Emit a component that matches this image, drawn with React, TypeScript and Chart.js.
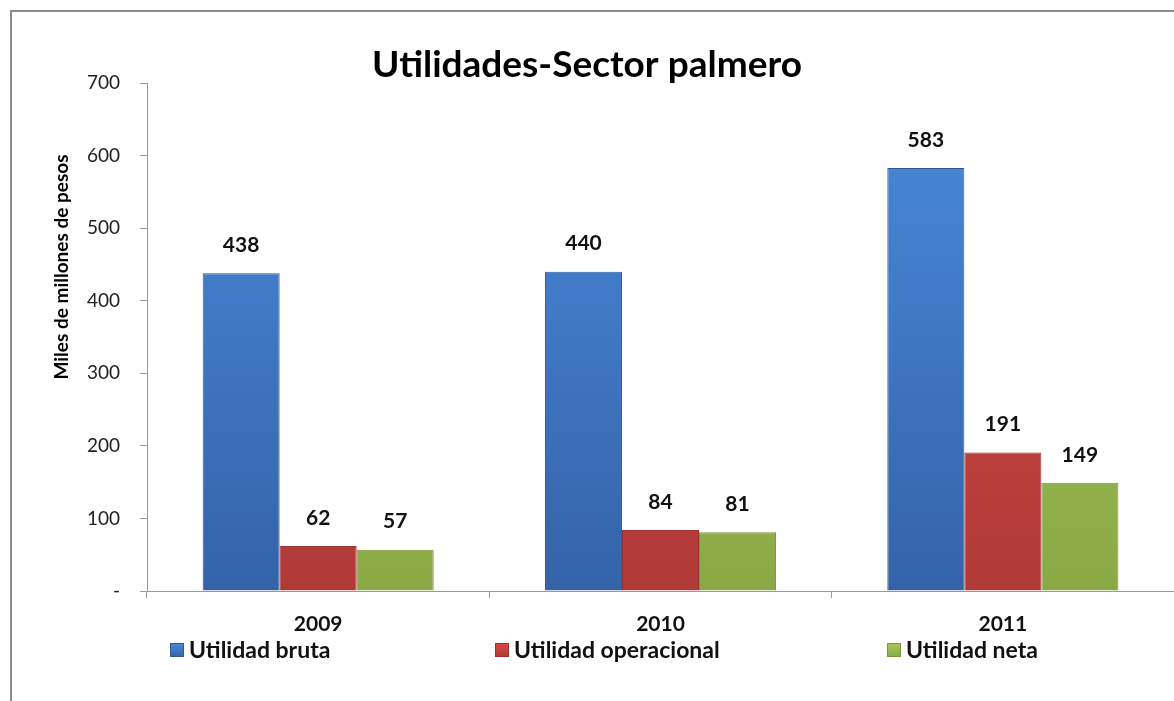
import React, { useEffect, useRef } from "react";
import { Chart, registerables } from "chart.js";

Chart.register(...registerables);

const categories = ["2009", "2010", "2011"];
const seriesNames = ["Utilidad bruta", "Utilidad operacional", "Utilidad neta"];
const utilidadBruta = [438, 440, 583];
const utilidadOperacional = [62, 84, 191];
const utilidadNeta = [57, 81, 149];
const yTicks = [0, 100, 200, 300, 400, 500, 600, 700];
const titleText = "Utilidades-Sector palmero";
const yAxisTitle = "Miles de millones de pesos";

const FONT = "Lato, 'Noto Sans', sans-serif";

const palette = [
  { top: "#4A8BDB", bottom: "#3463A8", border: "#2F5A96", box: "#3F78C4" },
  { top: "#D54A47", bottom: "#B03A38", border: "#9A3230", box: "#C4413F" },
  { top: "#A8CB5E", bottom: "#8AA946", border: "#7A963D", box: "#9BBB59" },
];

export default function App() {
  const ref = useRef<HTMLCanvasElement | null>(null);

  useEffect(() => {
    if (!ref.current) return;
    const grad = (i: number) => (ctx: any) => {
      const chart = ctx.chart;
      const area = chart.chartArea;
      if (!area) return palette[i].top;
      const g = chart.ctx.createLinearGradient(0, area.top, 0, area.bottom);
      g.addColorStop(0, palette[i].top);
      g.addColorStop(1, palette[i].bottom);
      return g;
    };

    const decor = {
      id: "decor",
      afterDraw(chart: any) {
        const c = chart.ctx;
        c.save();
        // title
        c.fillStyle = "#000";
        c.font = `bold 37px ${FONT}`;
        c.textAlign = "center";
        c.textBaseline = "middle";
        c.fillText(titleText, 587, 65);
        // y axis title
        c.save();
        c.translate(62, 267);
        c.rotate(-Math.PI / 2);
        c.font = `bold 19px ${FONT}`;
        c.fillStyle = "#000";
        c.textAlign = "center";
        c.textBaseline = "middle";
        c.fillText(yAxisTitle, 0, 0);
        c.restore();
        // legend
        const xs = [170, 495, 887];
        c.font = `bold 23px ${FONT}`;
        c.textAlign = "left";
        c.textBaseline = "middle";
        for (let i = 0; i < 3; i++) {
          const x = xs[i];
          const y = 650;
          const g = c.createLinearGradient(0, y - 7, 0, y + 7);
          g.addColorStop(0, palette[i].top);
          g.addColorStop(1, palette[i].bottom);
          c.fillStyle = g;
          c.fillRect(x, y - 7, 14, 14);
          c.strokeStyle = palette[i].border;
          c.lineWidth = 1;
          c.strokeRect(x + 0.5, y - 6.5, 13, 13);
          c.fillStyle = "#111";
          c.fillText(seriesNames[i], x + 19, y + 1);
        }
        c.restore();
      },
      afterDatasetsDraw(chart: any) {
        const c = chart.ctx;
        c.save();
        c.font = `bold 21px ${FONT}`;
        c.fillStyle = "#111";
        c.textAlign = "center";
        c.textBaseline = "middle";
        chart.data.datasets.forEach((ds: any, di: number) => {
          const meta = chart.getDatasetMeta(di);
          meta.data.forEach((bar: any, j: number) => {
            c.fillText(String(ds.data[j]), bar.x, bar.y - 28);
          });
        });
        c.restore();
      },
    };

    const chart = new Chart(ref.current, {
      type: "bar",
      data: {
        labels: categories,
        datasets: [
          { label: seriesNames[0], data: utilidadBruta, backgroundColor: grad(0), borderColor: palette[0].border, borderWidth: 1 },
          { label: seriesNames[1], data: utilidadOperacional, backgroundColor: grad(1), borderColor: palette[1].border, borderWidth: 1 },
          { label: seriesNames[2], data: utilidadNeta, backgroundColor: grad(2), borderColor: palette[2].border, borderWidth: 1 },
        ],
      },
      options: {
        responsive: false,
        animation: false,
        layout: { padding: { top: 83, left: 0, right: 0, bottom: 60 } },
        plugins: { legend: { display: false }, title: { display: false }, tooltip: { enabled: false } },
        datasets: { bar: { categoryPercentage: 0.675, barPercentage: 1 } },
        scales: {
          x: {
            afterFit: (s: any) => { s.height = 50; },
            grid: { display: true, drawOnChartArea: false, offset: true, tickLength: 7, color: "#9A9A9A" },
            border: { display: true, color: "#9A9A9A" },
            ticks: { font: { family: FONT, size: 21, weight: "bold" }, color: "#111", padding: 14 },
          },
          y: {
            min: 0,
            max: 700,
            afterFit: (s: any) => { s.width = 147; },
            afterBuildTicks: (s: any) => { s.ticks = yTicks.map((v) => ({ value: v })); },
            grid: { display: true, drawOnChartArea: false, tickLength: 7, color: "#9A9A9A" },
            border: { display: true, color: "#9A9A9A" },
            ticks: {
              font: { family: FONT, size: 19 },
              color: "#222",
              padding: 20,
              callback: (v: any) => (v === 0 ? "-" : String(v)),
            },
          },
        },
      },
      plugins: [decor],
    } as any);
    return () => chart.destroy();
  }, []);

  return (
    <div style={{ position: "fixed", left: 0, top: 0, width: 1174, height: 701, background: "#fff", overflow: "hidden" }}>
      <div style={{ position: "absolute", left: 10, top: 10, width: 1200, height: 720, border: "2px solid #8C8C8C", boxSizing: "border-box" }} />
      <canvas ref={ref} width={1174} height={701} style={{ position: "absolute", left: 0, top: 0 }} />
    </div>
  );
}
